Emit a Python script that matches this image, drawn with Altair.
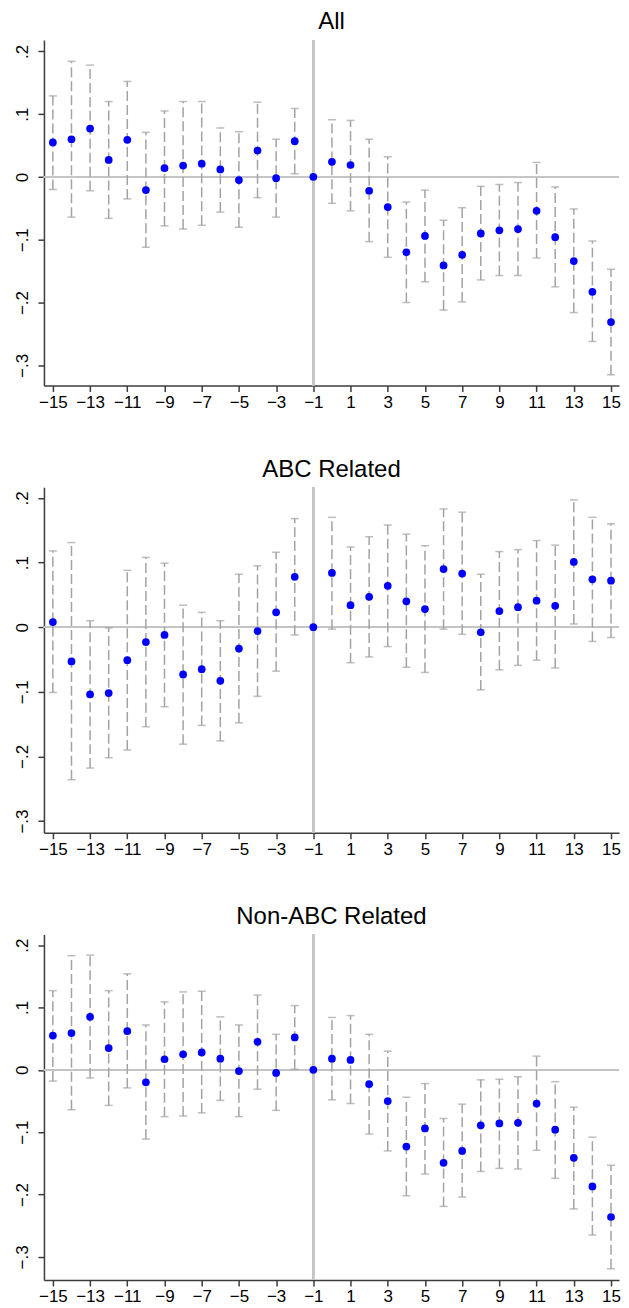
import altair as alt
import pandas as pd

x_vals = list(range(-15, 16))

titles = ["All", "ABC Related", "Non-ABC Related"]

all_est = [0.055, 0.060, 0.077, 0.027, 0.059, -0.021, 0.014, 0.018, 0.021, 0.012, -0.005, 0.042, -0.002, 0.057, 0.0,
           0.024, 0.019, -0.022, -0.048, -0.120, -0.094, -0.141, -0.124, -0.090, -0.085, -0.083, -0.054, -0.096, -0.134, -0.183, -0.231]
all_hi = [0.129, 0.184, 0.178, 0.120, 0.152, 0.071, 0.105, 0.120, 0.120, 0.078, 0.072, 0.119, 0.060, 0.109, 0.0,
          0.091, 0.090, 0.060, 0.032, -0.040, -0.021, -0.069, -0.049, -0.015, -0.012, -0.009, 0.023, -0.016, -0.051, -0.102, -0.147]
all_lo = [-0.020, -0.064, -0.022, -0.066, -0.035, -0.112, -0.078, -0.083, -0.077, -0.056, -0.080, -0.033, -0.064, 0.005, 0.0,
          -0.042, -0.054, -0.103, -0.128, -0.200, -0.167, -0.212, -0.199, -0.164, -0.157, -0.157, -0.129, -0.175, -0.216, -0.262, -0.315]

abc_est = [0.008, -0.053, -0.104, -0.102, -0.051, -0.023, -0.012, -0.073, -0.065, -0.083, -0.033, -0.006, 0.023, 0.078, 0.0,
           0.084, 0.034, 0.047, 0.064, 0.040, 0.028, 0.090, 0.083, -0.008, 0.025, 0.031, 0.041, 0.033, 0.101, 0.074, 0.072]
abc_hi = [0.118, 0.131, 0.010, -0.001, 0.088, 0.108, 0.099, 0.034, 0.023, 0.010, 0.082, 0.095, 0.116, 0.168, 0.0,
          0.170, 0.124, 0.140, 0.158, 0.144, 0.126, 0.183, 0.178, 0.082, 0.117, 0.120, 0.134, 0.127, 0.197, 0.170, 0.160]
abc_lo = [-0.101, -0.236, -0.218, -0.202, -0.190, -0.154, -0.123, -0.181, -0.152, -0.176, -0.148, -0.107, -0.068, -0.012, 0.0,
          -0.003, -0.055, -0.046, -0.030, -0.062, -0.070, -0.003, -0.011, -0.097, -0.066, -0.059, -0.051, -0.063, 0.005, -0.022, -0.016]

non_est = [0.055, 0.059, 0.085, 0.035, 0.062, -0.020, 0.017, 0.025, 0.028, 0.018, -0.002, 0.045, -0.005, 0.052, 0.0,
           0.018, 0.016, -0.023, -0.050, -0.123, -0.094, -0.149, -0.130, -0.089, -0.086, -0.085, -0.054, -0.096, -0.141, -0.187, -0.236]
non_hi = [0.127, 0.183, 0.184, 0.127, 0.154, 0.072, 0.109, 0.125, 0.126, 0.085, 0.072, 0.120, 0.057, 0.103, 0.0,
          0.084, 0.087, 0.057, 0.030, -0.044, -0.022, -0.078, -0.055, -0.016, -0.015, -0.011, 0.022, -0.019, -0.060, -0.108, -0.153]
non_lo = [-0.018, -0.064, -0.013, -0.057, -0.029, -0.111, -0.075, -0.074, -0.069, -0.049, -0.075, -0.031, -0.065, 0.001, 0.0,
          -0.048, -0.054, -0.103, -0.130, -0.202, -0.167, -0.219, -0.204, -0.163, -0.158, -0.159, -0.129, -0.174, -0.223, -0.265, -0.319]

y_domains = [[-0.332, 0.218], [-0.318, 0.2165], [-0.337, 0.217]]

x_ticks = list(range(-15, 16, 2))
y_ticks = [-0.3, -0.2, -0.1, 0.0, 0.1, 0.2]

FONT = "Liberation Sans, Arial, sans-serif"
AXIS_COLOR = "#3c3c3c"


def panel(title, est, lo, hi, ydom):
    df = pd.DataFrame({"x": x_vals, "est": est, "lo": lo, "hi": hi})
    bars_df = df[df["x"] != -1]
    xs = alt.Scale(domain=[-15.48, 15.43], nice=False, zero=False)
    ys = alt.Scale(domain=ydom, nice=False, zero=False)
    xax = alt.Axis(values=x_ticks, title=None, grid=False, labelFontSize=17, labelFont=FONT,
                   labelColor="black", tickSize=6, tickColor=AXIS_COLOR, tickWidth=1.5,
                   domainColor=AXIS_COLOR, domainWidth=1.5, labelPadding=3, labelFlush=False)
    yax = alt.Axis(values=y_ticks, title=None, grid=False, labelFontSize=17, labelFont=FONT,
                   labelColor="black", tickSize=6, tickColor=AXIS_COLOR, tickWidth=1.5,
                   domainColor=AXIS_COLOR, domainWidth=1.5, labelAngle=270,
                   labelAlign="center", labelBaseline="alphabetic", labelPadding=10,
                   labelExpr="replace(format(datum.value, '.1~f'), '0.', '.')")

    base = alt.Chart(df)
    zero = base.mark_rule(color="#c4c4c4", strokeWidth=1.5).encode(y=alt.datum(0, scale=ys, axis=yax))
    vline = base.mark_rule(color="#c4c4c4", strokeWidth=1.5).encode(x=alt.datum(-1, scale=xs, axis=xax))
    bars = alt.Chart(bars_df).mark_rule(color="#a3a3a3", strokeWidth=1.5, strokeDash=[10, 4]).encode(
        x=alt.X("x:Q", scale=xs, axis=xax),
        y=alt.Y("lo:Q", scale=ys, axis=yax),
        y2="hi:Q",
    )
    cap_lo = alt.Chart(bars_df).mark_tick(color="#a3a3a3", orient="horizontal", size=8, thickness=1.5).encode(
        x=alt.X("x:Q", scale=xs, axis=xax), y=alt.Y("lo:Q", scale=ys, axis=yax))
    cap_hi = alt.Chart(bars_df).mark_tick(color="#a3a3a3", orient="horizontal", size=8, thickness=1.5).encode(
        x=alt.X("x:Q", scale=xs, axis=xax), y=alt.Y("hi:Q", scale=ys, axis=yax))
    pts = base.mark_circle(color="#0000ff", opacity=1, size=60).encode(
        x=alt.X("x:Q", scale=xs, axis=xax), y=alt.Y("est:Q", scale=ys, axis=yax))
    return alt.layer(zero, vline, bars, cap_lo, cap_hi, pts).properties(
        width=576, height=346,
        title=alt.TitleParams(title, fontSize=24, font=FONT, fontWeight="normal", color="black",
                              anchor="middle", offset=5),
    )


chart = alt.vconcat(
    panel(titles[0], all_est, all_lo, all_hi, y_domains[0]),
    panel(titles[1], abc_est, abc_lo, abc_hi, y_domains[1]),
    panel(titles[2], non_est, non_lo, non_hi, y_domains[2]),
    spacing=45,
).resolve_scale(y="independent").properties(
    padding={"left": 5, "top": 0, "right": 0, "bottom": 0}
).configure_view(stroke="transparent")

chart.save("out.html", embed_options={"renderer": "svg", "actions": False})
